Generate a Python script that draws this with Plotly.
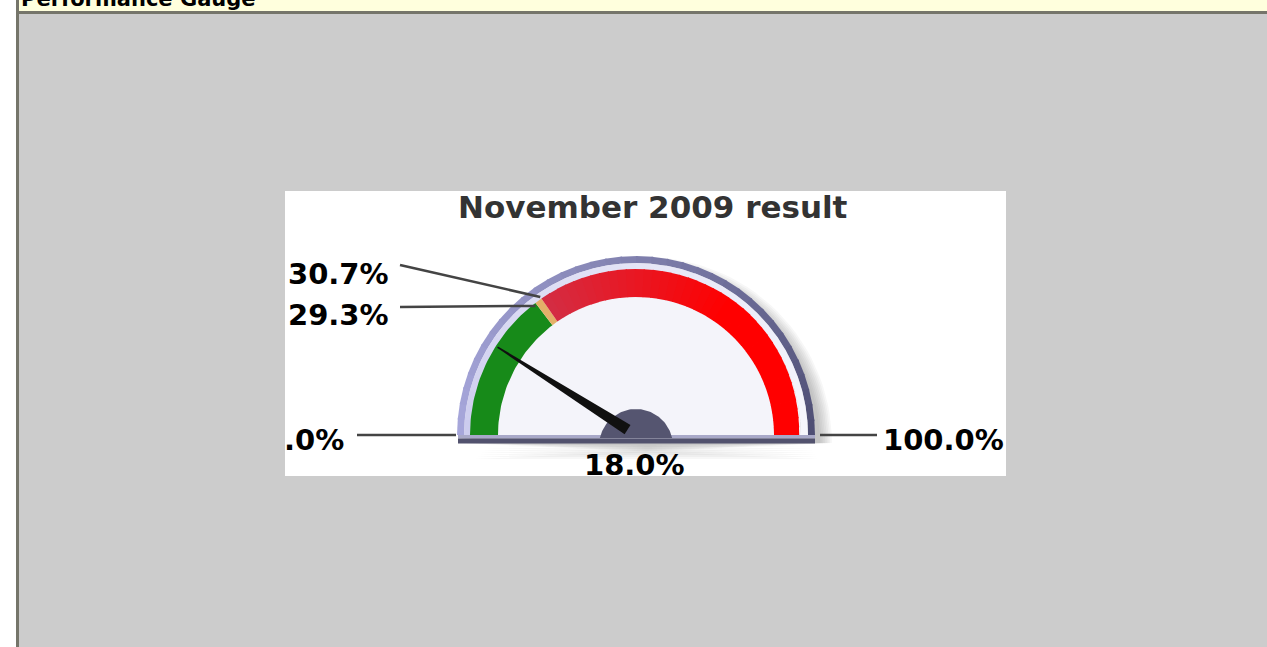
import math
import plotly.graph_objs as go

# values (percent)
scale_min = 0.0
scale_max = 100.0
green_end = 29.3
amber_end = 30.7
needle_value = 18.0

band_from = [scale_min, green_end, amber_end]
band_to = [green_end, amber_end, scale_max]
band_names = ["good", "warning", "bad"]

chart_title = "November 2009 result"
page_title = "Performance Gauge"

#%%
W, H = 1267, 647
cx, cy = 636, 435          # gauge centre in page pixels


def angle(v):
    return math.pi * (1 - (v - scale_min) / (scale_max - scale_min))


def pt(v, r, ox=cx, oy=cy):
    a = angle(v)
    return ox + r * math.cos(a), oy - r * math.sin(a)


def ring(v0, v1, r0, r1, n=30):
    xs, ys = [], []
    for i in range(n + 1):
        x, y = pt(v0 + (v1 - v0) * i / n, r1)
        xs.append(x); ys.append(y)
    for i in range(n, -1, -1):
        x, y = pt(v0 + (v1 - v0) * i / n, r0)
        xs.append(x); ys.append(y)
    return xs, ys


def mix(c0, c1, t):
    t = max(0.0, min(1.0, t))
    return "rgb(%d,%d,%d)" % tuple(round(a + (b - a) * t) for a, b in zip(c0, c1))


def fmt(v):
    s = "%.1f" % v
    if s.startswith("0"):
        s = s[1:]
    return s + "%"


fig = go.Figure()


def poly(xs, ys, color):
    fig.add_trace(go.Scatter(x=xs, y=ys, mode="lines", fill="toself", fillcolor=color,
                             line=dict(width=0, color=color), hoverinfo="skip", showlegend=False))


def box(x0, x1, y0, y1, color):
    poly([x0, x1, x1, x0, x0], [y0, y0, y1, y1, y0], color)


#%% soft shadow behind the gauge (right and below)
for k in range(8):
    r = 174 + k * 1.7
    ox, oy = cx + 10, cy + 8
    xs, ys = [], []
    for i in range(61):
        x, y = pt(scale_min + (scale_max - scale_min) * i / 60, r, ox, oy)
        xs.append(x); ys.append(y)
    xs += [ox - r + 14, ox + r - 6 - k]
    ys += [cy + 10 + k * 2, cy + 10 + k * 2]
    poly(xs, ys, "rgba(60,60,60,0.04)")

#%% rim, split in slices so it darkens to the right
n = 36
for i in range(n):
    v0 = scale_min + (scale_max - scale_min) * i / n
    v1 = scale_min + (scale_max - scale_min) * (i + 1) / n
    t = i / (n - 1)
    xs, ys = ring(v0, min(v1 + 0.3, scale_max), 172, 179, 4)
    poly(xs, ys, mix((166, 166, 218), (78, 78, 116), t ** 1.2))
    xs, ys = ring(v0, min(v1 + 0.3, scale_max), 165, 172, 4)
    poly(xs, ys, mix((204, 204, 238), (246, 246, 252), t ** 0.8))

# face
xs, ys = ring(scale_min, scale_max, 0, 165, 80)
poly(xs, ys, "#f4f4fa")

#%% coloured bands
xs, ys = ring(band_from[0], band_to[0], 138, 166, 40)
poly(xs, ys, "#178a19")
xs, ys = ring(band_from[1], band_to[1], 138, 166, 6)
poly(xs, ys, "#e4b068")
m = 40
for i in range(m):
    v0 = band_from[2] + (band_to[2] - band_from[2]) * i / m
    v1 = band_from[2] + (band_to[2] - band_from[2]) * (i + 1) / m
    r_out = 166 - 3 * max(0.0, (i - m * 0.6) / (m * 0.4))
    xs, ys = ring(v0, min(v1 + 0.2, scale_max), 138, r_out, 3)
    poly(xs, ys, mix((212, 44, 66), (255, 0, 0), i / (m * 0.55)))

#%% base bar
box(458, 815, 435, 438.5, "#a8a8c8")
box(458, 815, 438.5, 443.5, "#52526e")

#%% hub
hx, hy, hr = cx, 446, 37
t0 = math.asin((hy - 438) / hr)
hub_x, hub_y = [], []
for i in range(61):
    t = t0 + (math.pi - 2 * t0) * i / 60
    hub_x.append(hx + hr * math.cos(t)); hub_y.append(hy - hr * math.sin(t))
poly(hub_x, hub_y, "#555570")

#%% needle
a = angle(needle_value)
ux, uy = math.cos(a), -math.sin(a)
px, py = -uy, ux
tipx, tipy = pt(needle_value, 164)
bx, by = cx + ux * 10, cy + uy * 10
poly([bx + px * 5.5, tipx + px * 0.8, tipx - px * 0.8, bx - px * 5.5, bx + px * 5.5],
     [by + py * 5.5, tipy + py * 0.8, tipy - py * 0.8, by - py * 5.5, by + py * 5.5], "#101010")

#%% leader lines and labels
line_col = "#444444"
lines = [
    ([357, 456], [435, 435]),
    ([820, 877], [435, 435]),
]
p = pt(green_end, 166)
lines.append(([400, p[0]], [307, p[1] + 3]))
p = pt(amber_end, 168)
lines.append(([400, p[0]], [265, p[1]]))
for lx, ly in lines:
    fig.add_trace(go.Scatter(x=lx, y=ly, mode="lines", line=dict(color=line_col, width=2.5),
                             hoverinfo="skip", showlegend=False))

lab_font = dict(family="DejaVu Sans", size=29, color="black", weight="bold")
annos = [
    dict(x=346, y=440, text=fmt(scale_min), xanchor="right"),
    dict(x=881, y=440, text=fmt(scale_max), xanchor="left"),
    dict(x=286, y=315, text=fmt(green_end), xanchor="left"),
    dict(x=286, y=274, text=fmt(amber_end), xanchor="left"),
    dict(x=634, y=465, text=fmt(needle_value), xanchor="center"),
]
for an in annos:
    fig.add_annotation(xref="x", yref="y", showarrow=False, yanchor="middle", font=lab_font, **an)

fig.add_annotation(xref="x", yref="y", x=653, y=207, text=chart_title, showarrow=False,
                   xanchor="center", yanchor="middle",
                   font=dict(family="DejaVu Sans", size=31, color="#333333", weight="bold"))
fig.add_annotation(xref="x", yref="y", x=19, y=13, text=page_title, showarrow=False,
                   xanchor="left", yanchor="bottom",
                   font=dict(family="DejaVu Sans", size=21, color="black", weight="bold"))

#%% page chrome
shapes = [
    dict(type="rect", x0=0, x1=16, y0=0, y1=H, fillcolor="white"),
    dict(type="rect", x0=19, x1=W, y0=0, y1=11, fillcolor="#ffffdd"),
    dict(type="rect", x0=16, x1=W, y0=11, y1=14, fillcolor="#75756a"),
    dict(type="rect", x0=16, x1=19, y0=0, y1=H, fillcolor="#75756a"),
    dict(type="rect", x0=285, x1=1006, y0=191, y1=476, fillcolor="white"),
]
for s in shapes:
    fig.add_shape(xref="x", yref="y", layer="below", line=dict(width=0), **s)

fig.update_layout(
    width=W, height=H, margin=dict(l=0, r=0, t=0, b=0),
    paper_bgcolor="#cccccc", plot_bgcolor="#cccccc",
    xaxis=dict(range=[0, W], visible=False, fixedrange=True),
    yaxis=dict(range=[H, 0], visible=False, fixedrange=True),
    showlegend=False,
)

fig.write_html("out.html", config=dict(displayModeBar=False),
               post_script="document.body.style.margin='0';document.body.style.overflow='hidden';")
